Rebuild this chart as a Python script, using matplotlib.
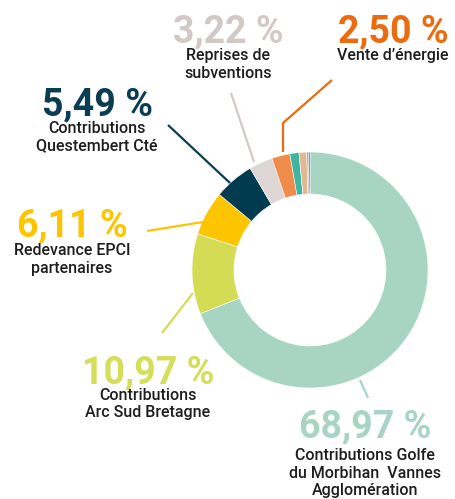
import matplotlib
matplotlib.use("Agg")
import matplotlib.pyplot as plt
from matplotlib import font_manager

W, H = 455, 499

# Data
labels = ["Contributions Golfe\ndu Morbihan  Vannes\nAgglomération",
          "Contributions\nArc Sud Bretagne",
          "Redevance EPCI\npartenaires",
          "Contributions\nQuestembert Cté",
          "Reprises de\nsubventions",
          "Vente d’énergie",
          "Autre 1", "Autre 2", "Autre 3", "Autre 4"]
values = [68.97, 10.97, 6.11, 5.49, 3.22, 2.50, 1.25, 1.05, 0.24, 0.20]
pct_text = ["68,97 %", "10,97 %", "6,11 %", "5,49 %", "3,22 %", "2,50 %"]
wedge_colors = ["#a8d5c3", "#d4dc55", "#fcc500", "#003b4f", "#ddd6d5",
                "#f08c4b", "#3db5a0", "#e2b894", "#a89bb5", "#6f7070"]
label_colors = ["#a8d5c3", "#d4de5a", "#fcc500", "#0b3d52", "#d2c9c7", "#ea6b10"]
line_colors = ["#a8d5c3", "#d4dc55", "#fcc500", "#0b3d52", "#d2c9c7", "#ea6b10"]

# layout (pixel coords, y from top): center x, percent baseline, first label baseline
pct_pos = [(365, 437, 460), (148, 383, 400), (72, 236, 255), (97, 115, 133),
           (228, 42, 60), (393, 42, 60)]
line_step = 17.5
lines = [[(360, 380), (368, 398)],
         [(193, 293), (162, 333)],
         [(203, 222), (147, 231)],
         [(230, 183), (168, 125)],
         [(254, 162), (231, 93)],
         [(283, 152), (283, 123), (332, 80)]]

avail = {f.name for f in font_manager.fontManager.ttflist}
boldf = "Roboto" if "Roboto" in avail else "DejaVu Sans"
narrow = boldf

fig = plt.figure(figsize=(W / 100, H / 100), dpi=100)
ax = fig.add_axes([0, 0, 1, 1])
ax.set_xlim(0, W)
ax.set_ylim(0, H)
ax.set_aspect("equal")
ax.axis("off")

def Y(y):
    return H - y

ax.pie(values, colors=wedge_colors, startangle=90, counterclock=False,
       radius=118, center=(310, Y(270)),
       wedgeprops=dict(width=42, edgecolor="white", linewidth=0.4))
ax.set_xlim(0, W)
ax.set_ylim(0, H)

for pts, c in zip(lines, line_colors):
    ax.plot([p[0] for p in pts], [Y(p[1]) for p in pts], color=c, lw=1.6,
            solid_capstyle="butt")

for (x, yb, yl), t, c, lab in zip(pct_pos, pct_text, label_colors, labels):
    ax.text(x, Y(yb), t, color=c, fontsize=27, fontweight="bold",
            family=boldf, ha="center", va="baseline")
    for i, line in enumerate(lab.split("\n")):
        ax.text(x, Y(yl + i * line_step), line, color="#1e1e1e", fontsize=11.5,
                fontweight="medium", family=narrow, ha="center", va="baseline")

fig.savefig("out.png", dpi=100)
